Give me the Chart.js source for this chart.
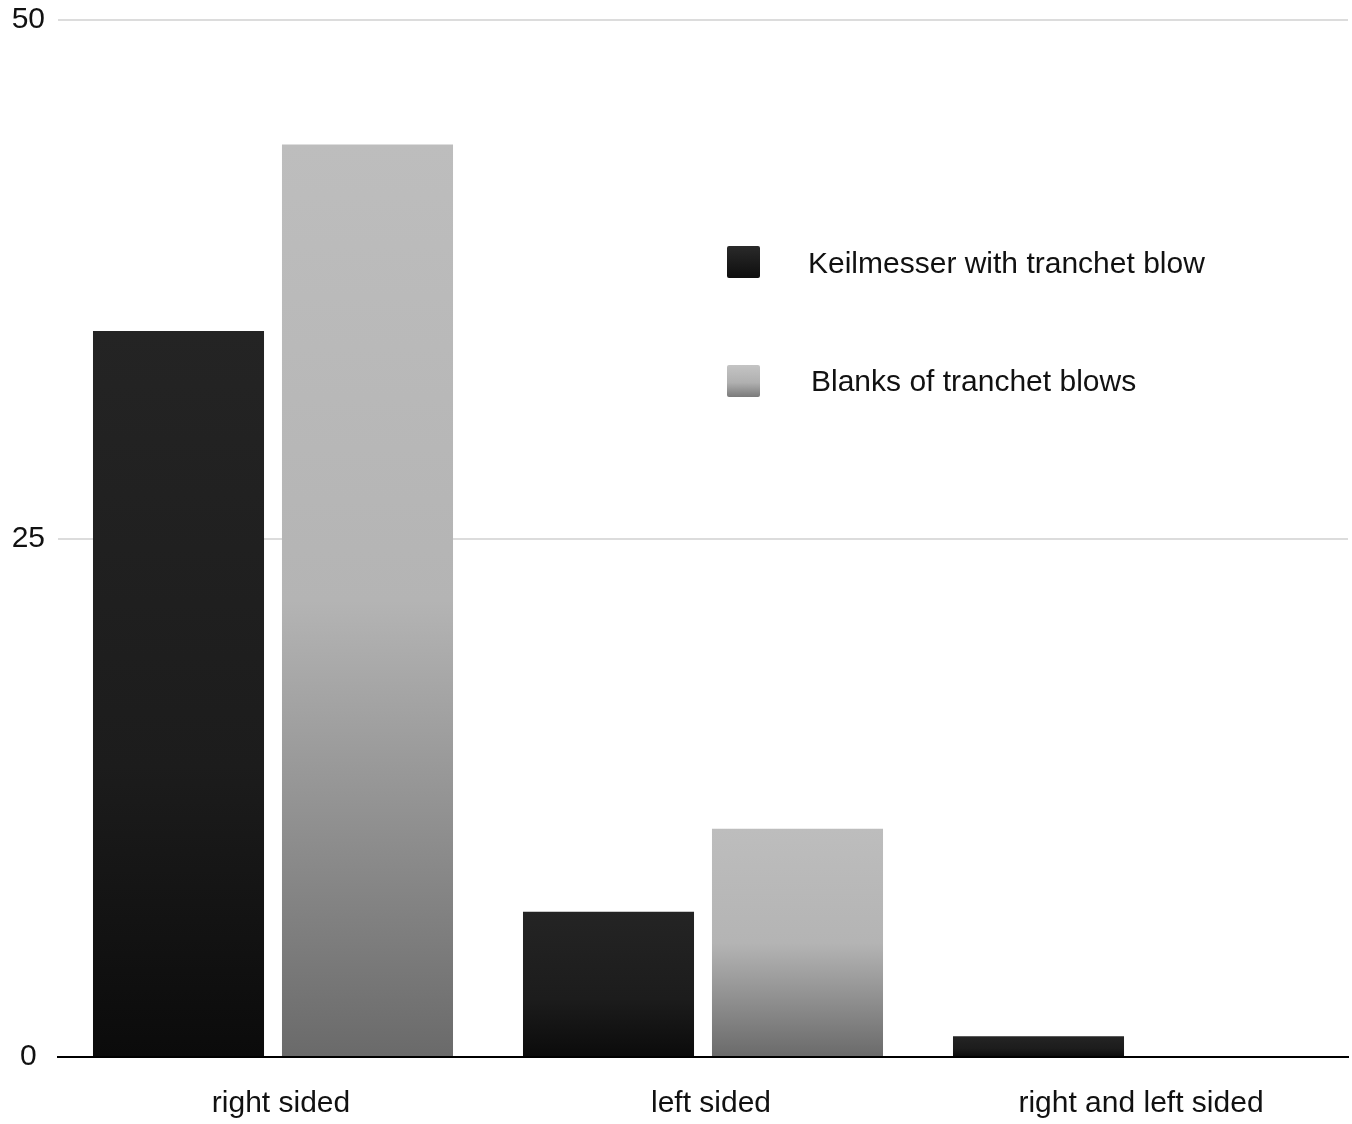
<!DOCTYPE html>
<html>
<head>
<meta charset="utf-8">
<script src="https://cdn.jsdelivr.net/npm/chart.js@4"></script>
<style>
  html,body{margin:0;padding:0;background:#fff;}
  #wrap{position:relative;width:1352px;height:1124px;}
  .leg{position:absolute;font-family:"Liberation Sans",Arial,sans-serif;font-size:30px;color:#111;white-space:nowrap;}
  .box{position:absolute;width:33px;height:32px;border-radius:2px;}
</style>
</head>
<body>
<div id="wrap">
  <canvas id="c" width="1352" height="1124"></canvas>
  <div class="box" style="left:727px;top:246px;background:linear-gradient(#2a2a2a,#0e0e0e);"></div>
  <div class="leg" style="left:808px;top:246px;">Keilmesser with tranchet blow</div>
  <div class="box" style="left:727px;top:365px;background:linear-gradient(#c4c4c4 0%,#b0b0b0 55%,#7a7a7a 100%);"></div>
  <div class="leg" style="left:811px;top:364px;">Blanks of tranchet blows</div>
</div>
<script>
// data
const categories = ['right sided', 'left sided', 'right and left sided'];
const keilmesser = [35, 7, 1];
const blanks = [44, 11, 0];
const yTicks = [0, 25, 50];

function barGradient(ctx, stops){
  const chart = ctx.chart;
  const area = chart.chartArea;
  if(!area) return stops[0][1];
  const y = chart.scales.y;
  const v = ctx.raw || 0;
  const top = y.getPixelForValue(v), bot = y.getPixelForValue(0);
  if(bot - top < 1) return stops[0][1];
  const g = chart.ctx.createLinearGradient(0, top, 0, bot);
  stops.forEach(s => g.addColorStop(s[0], s[1]));
  return g;
}

new Chart(document.getElementById('c'), {
  type: 'bar',
  data: {
    labels: categories,
    datasets: [
      { label: 'Keilmesser with tranchet blow', data: keilmesser,
        backgroundColor: c => barGradient(c, [[0,'#242424'],[0.6,'#1c1c1c'],[1,'#0b0b0b']]),
        barPercentage: 0.905, categoryPercentage: 0.879 },
      { label: 'Blanks of tranchet blows', data: blanks,
        backgroundColor: c => barGradient(c, [[0,'#bdbdbd'],[0.5,'#b4b4b4'],[1,'#6a6a6a']]),
        barPercentage: 0.905, categoryPercentage: 0.879 }
    ]
  },
  options: {
    responsive: false,
    animation: false,
    devicePixelRatio: 1,
    layout: { padding: { top: 20, right: 4, bottom: 0, left: 0 } },
    plugins: { legend: { display: false }, tooltip: { enabled: false } },
    scales: {
      x: {
        grid: { display: false },
        border: { display: true, color: '#000', width: 2 },
        ticks: { color: '#111', padding: 21, labelOffset: 8,
                 font: { family: 'Liberation Sans', size: 30 } },
        afterFit: s => { s.height = 67; }
      },
      y: {
        min: 0, max: 50,
        afterBuildTicks: s => { s.ticks = yTicks.map(v => ({ value: v })); },
        grid: { color: '#dcdcdc', lineWidth: 2, drawTicks: false },
        border: { display: false },
        ticks: { color: '#111', padding: 13, crossAlign: 'center',
                 font: { family: 'Liberation Sans', size: 30 } },
        afterFit: s => { s.width = 58; s.paddingTop = 15; s.paddingBottom = 15; }
      }
    }
  }
});
</script>
</body>
</html>
